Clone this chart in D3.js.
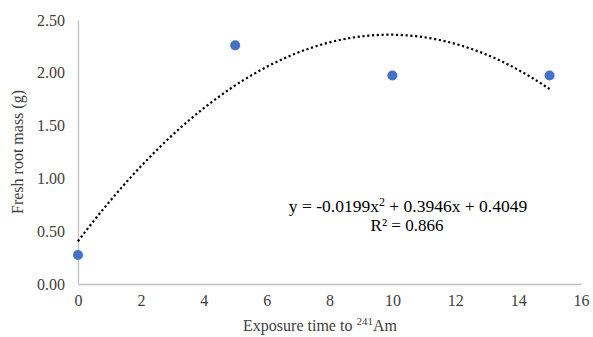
<!DOCTYPE html>
<html>
<head>
<meta charset="utf-8">
<script src="https://cdn.jsdelivr.net/npm/d3@7"></script>
<style>
  body { margin: 0; background: #fff; }
</style>
</head>
<body>
<div id="chart"></div>
<script>
const exposure = [0, 5, 10, 15];
const rootMass = [0.275, 2.26, 1.975, 1.975];
const xTicks = [0, 2, 4, 6, 8, 10, 12, 14, 16];
const yTicks = [0, 0.5, 1, 1.5, 2, 2.5];
// trendline y = a x^2 + b x + c, as printed on the chart
const trendCoef = [-0.0199, 0.3946, 0.4049];
const trendLabel = ['y = -0.0199x', '2', ' + 0.3946x + 0.4049'];
const r2Label = 'R² = 0.866';

const serif = '"Liberation Serif", "Times New Roman", Times, serif';
const width = 593, height = 337;
const margin = { top: 20, right: 12, bottom: 53, left: 78 };

const svg = d3.select('#chart').append('svg')
  .attr('width', width)
  .attr('height', height)
  .style('font-family', serif);

const x = d3.scaleLinear().domain([0, 16]).range([margin.left, width - margin.right]);
const y = d3.scaleLinear().domain([0, 2.5]).range([height - margin.bottom, margin.top]);

// axes
svg.append('g')
  .attr('class', 'axis axis-x')
  .attr('transform', 'translate(0,' + y(0) + ')')
  .call(d3.axisBottom(x).tickValues(xTicks).tickSize(0).tickPadding(11).tickFormat(d3.format('d')));

svg.append('g')
  .attr('class', 'axis axis-y')
  .attr('transform', 'translate(' + x(0) + ',0)')
  .call(d3.axisLeft(y).tickValues(yTicks).tickSize(0).tickPadding(13).tickFormat(d3.format('.2f')));

svg.selectAll('.axis').attr('font-family', null);
svg.selectAll('.domain').attr('stroke', '#bfbfbf').attr('stroke-width', 1.3);
svg.selectAll('.tick text')
  .style('font-family', serif)
  .style('font-size', '16px')
  .attr('fill', '#404040');

// trendline
const a = trendCoef[0], b = trendCoef[1], c = trendCoef[2];
const trendX = d3.range(0, 15.001, 0.25);
const line = d3.line()
  .curve(d3.curveLinear)
  .x(function(d) { return x(d); })
  .y(function(d) { return y(a * d * d + b * d + c); });

svg.append('path')
  .datum(trendX)
  .attr('fill', 'none')
  .attr('stroke', '#000')
  .attr('stroke-width', 2.2)
  .attr('stroke-dasharray', '2.2 2.6')
  .attr('d', line);

// points
svg.selectAll('.dot')
  .data(exposure)
  .enter()
  .append('circle')
  .attr('class', 'dot')
  .attr('cx', function(d) { return x(d); })
  .attr('cy', function(d, i) { return y(rootMass[i]); })
  .attr('r', 5)
  .attr('fill', '#4472c4');

// equation
const eq = svg.append('text')
  .attr('x', 408)
  .attr('y', 212)
  .attr('text-anchor', 'middle')
  .style('font-family', serif)
  .style('font-size', '17.5px')
  .attr('fill', '#000');
eq.append('tspan').text(trendLabel[0]);
eq.append('tspan').attr('dy', -6).style('font-size', '12px').text(trendLabel[1]);
eq.append('tspan').attr('dy', 6).text(trendLabel[2]);

svg.append('text')
  .attr('x', 407)
  .attr('y', 231)
  .attr('text-anchor', 'middle')
  .style('font-family', serif)
  .style('font-size', '17px')
  .attr('fill', '#000')
  .text(r2Label);

// axis titles
const xt = svg.append('text')
  .attr('x', 320)
  .attr('y', 331)
  .attr('text-anchor', 'middle')
  .style('font-family', serif)
  .style('font-size', '16px')
  .attr('fill', '#404040');
xt.append('tspan').text('Exposure time to ');
xt.append('tspan').attr('dy', -6).style('font-size', '11px').text('241');
xt.append('tspan').attr('dy', 6).text('Am');

svg.append('text')
  .attr('transform', 'translate(23,' + y(1.25) + ') rotate(-90)')
  .attr('text-anchor', 'middle')
  .style('font-family', serif)
  .style('font-size', '16px')
  .attr('fill', '#404040')
  .text('Fresh root mass (g)');
</script>
</body>
</html>
